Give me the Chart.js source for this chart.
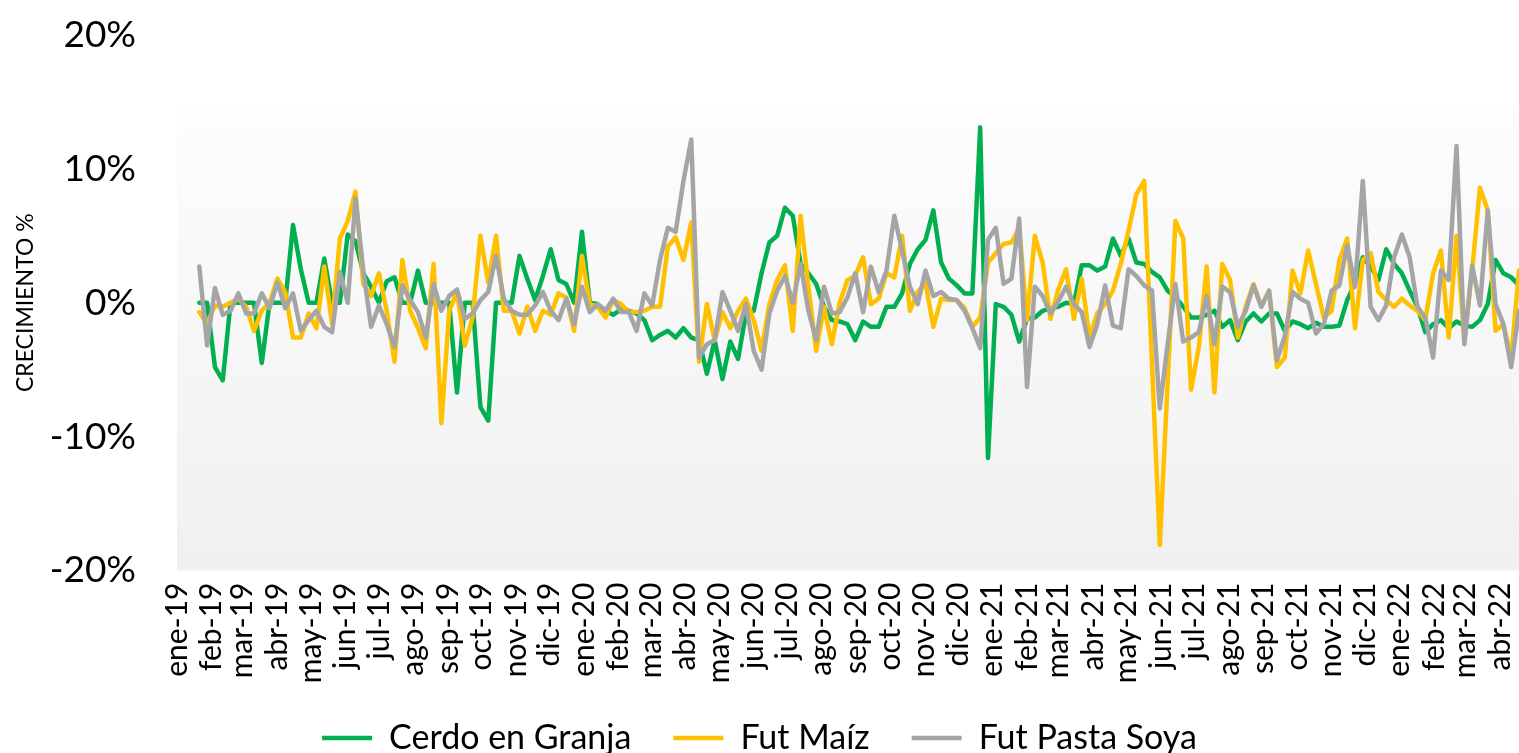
<!DOCTYPE html>
<html>
<head>
<meta charset="utf-8">
<script src="https://cdn.jsdelivr.net/npm/chart.js@4.4.1/dist/chart.umd.min.js"></script>
<style>
  html, body { margin: 0; padding: 0; background: #fff; overflow: hidden; }
  #wrap { width: 1519px; height: 765px; }
</style>
</head>
<body>
<div id="wrap"><canvas id="grafico" width="1519" height="765"></canvas></div>
<script>
// etiquetas de mes del eje X
const meses = ['ene-19','feb-19','mar-19','abr-19','may-19','jun-19','jul-19','ago-19','sep-19','oct-19','nov-19','dic-19',
  'ene-20','feb-20','mar-20','abr-20','may-20','jun-20','jul-20','ago-20','sep-20','oct-20','nov-20','dic-20',
  'ene-21','feb-21','mar-21','abr-21','may-21','jun-21','jul-21','ago-21','sep-21','oct-21','nov-21','dic-21',
  'ene-22','feb-22','mar-22','abr-22'];

// crecimiento semanal en %
const cerdoGranja = [
  0, 0, -4.8, -5.8, 0, 0, 0, 0, -4.5, 0,
  0, 0, 5.8, 2.5, 0, 0, 3.3, 0, 0, 5.1,
  4.6, 2.2, 1.2, 0, 1.6, 1.9, 0, 0, 2.4, 0,
  0, 0, 0, -6.7, 0, 0, -7.8, -8.8, 0, 0,
  0, 3.5, 1.8, 0.2, 2.0, 4.0, 1.7, 1.4, 0, 5.3,
  0, -0.1, -0.6, -0.9, -0.5, -0.6, -0.8, -1.3, -2.8, -2.4,
  -2.1, -2.6, -1.9, -2.6, -2.8, -5.3, -2.8, -5.7, -2.9, -4.2,
  -0.8, -0.6, 2.2, 4.5, 5.0, 7.1, 6.5, 2.9, 2.2, 1.4,
  -0.3, -1.3, -1.4, -1.6, -2.8, -1.4, -1.8, -1.8, -0.3, -0.3,
  0.7, 2.9, 4.0, 4.7, 6.9, 3.0, 1.8, 1.3, 0.7, 0.7,
  13.1, -11.6, -0.1, -0.3, -0.9, -2.9, -1.2, -1.1, -0.6, -0.4,
  -0.3, 0, -0.1, 2.8, 2.8, 2.4, 2.7, 4.8, 3.5, 4.8,
  3.0, 2.9, 2.3, 1.9, 0.9, 0.4, -0.3, -1.1, -1.1, -0.9,
  -0.6, -1.8, -1.3, -2.8, -1.4, -0.8, -1.4, -0.8, -0.8, -2.1,
  -1.4, -1.6, -1.9, -1.5, -1.8, -1.8, -1.7, 0.2, 1.5, 3.4,
  2.7, 1.7, 4.0, 2.9, 2.2, 0.9, -0.3, -2.2, -1.6, -1.3,
  -1.9, -1.4, -1.7, -1.8, -1.3, -0.1, 3.2, 2.2, 1.9, 1.3
];
const futMaiz = [
  -0.7, -1.6, -0.2, -0.3, 0, 0.3, -0.3, -2.1, -0.6, 0,
  1.8, 0.8, -2.6, -2.6, -0.8, -1.9, 2.7, -1.6, 4.8, 6.1,
  8.3, 1.4, 0.5, 2.2, -0.6, -4.4, 3.2, -0.6, -1.9, -3.4,
  2.9, -9.0, -0.6, 0.8, -3.2, -1.1, 5.0, 1.5, 5.0, -0.6,
  -0.6, -2.3, -0.3, -2.1, -0.6, -0.9, 0.7, 0.4, -2.1, 3.5,
  -0.1, -0.3, -1.1, 0.2, -0.1, -0.7, -0.7, -0.6, -0.3, -0.3,
  4.2, 4.9, 3.2, 6.0, -4.4, -0.1, -2.8, -0.7, -1.9, -0.6,
  0.3, -1.3, -3.6, -0.1, 1.7, 2.8, -2.1, 6.5, 1.2, -3.6,
  -0.3, -3.1, 0, 1.7, 2.0, 3.4, -0.1, 0.3, 2.2, 1.9,
  5.0, -0.6, 0.8, 1.5, -1.8, 0.3, 0.2, 0.2, -0.4, -1.8,
  -1.1, 3.0, 3.7, 4.4, 4.5, 5.6, -1.3, 5.0, 3.0, -1.2,
  1.0, 2.5, -1.2, 1.8, -2.6, -0.8, -0.1, 0.9, 2.9, 5.4,
  8.1, 9.1, -4.5, -18.1, -6.0, 6.1, 4.8, -6.5, -3.3, 2.7,
  -6.7, 2.9, 1.7, -2.6, -0.3, 1.4, -0.3, 0.9, -4.8, -4.1,
  2.4, 0.7, 3.9, 1.4, -1.1, -0.6, 3.2, 4.8, -1.9, 3.2,
  3.7, 0.8, 0.2, -0.3, 0.3, -0.2, -0.6, -1.3, 2.2, 3.9,
  -2.6, 5.0, -2.8, 2.4, 8.6, 6.9, -2.1, -1.6, -4.1, 2.4
];
const futPastaSoya = [
  2.7, -3.2, 1.1, -0.9, -0.6, 0.7, -0.8, -0.8, 0.7, -0.4,
  1.5, -0.4, 0.7, -2.1, -1.3, -0.6, -1.8, -2.2, 2.3, 0,
  7.8, 2.4, -1.8, -0.2, -1.6, -3.3, 1.3, 0.2, -0.7, -2.6,
  1.4, -0.6, 0.5, 1.0, -1.2, -0.8, 0.2, 0.8, 3.5, 0.3,
  -0.6, -0.9, -0.9, -0.2, 0.8, -0.6, -1.3, 0.3, -1.6, 1.2,
  -0.7, -0.1, -0.6, 0.3, -0.7, -0.7, -2.1, 0.7, -0.2, 3.2,
  5.6, 5.3, 9.1, 12.2, -4.1, -3.1, -2.8, 0.8, -0.6, -2.1,
  -0.1, -3.6, -5.0, -0.8, 0.9, 2.0, 0, 2.9, -0.6, -2.8,
  1.2, -0.8, -0.7, 0.4, 2.2, -0.7, 2.7, 0.8, 2.4, 6.5,
  3.9, 1.2, -0.1, 2.4, 0.5, 0.8, 0.3, 0.2, -0.6, -1.9,
  -3.4, 4.7, 5.6, 1.4, 1.8, 6.3, -6.3, 1.2, 0.5, -0.8,
  0.1, 1.2, -0.1, -0.7, -3.3, -1.6, 1.3, -1.7, -1.9, 2.5,
  2.0, 1.3, 0.9, -7.9, -3.1, 1.4, -2.9, -2.6, -2.2, 0.5,
  -3.1, 1.2, 0.8, -1.8, -0.6, 1.3, -0.3, 0.9, -4.3, -2.5,
  0.8, 0.3, 0, -2.3, -1.6, 0.9, 1.3, 4.3, 1.2, 9.1,
  -0.3, -1.3, -0.2, 3.4, 5.1, 3.4, -0.3, -1.1, -4.1, 2.4,
  1.7, 11.7, -3.1, 2.8, -0.2, 6.9, -0.1, -1.6, -4.8, -0.6
];

const yTicks = [-20, -10, 0, 10, 20];

// dias contados desde 1-ene-2019
const DIA = 86400000;
const inicio = Date.UTC(2019, 0, 1);
const primeraSemana = Math.round((Date.UTC(2019, 0, 21) - inicio) / DIA);
const semanas = cerdoGranja.map((_, i) => primeraSemana + 7 * i);
const iniciosMes = meses.map((_, k) => Math.round((Date.UTC(2019, k, 1) - inicio) / DIA));

const serie = (vals) => vals.map((v, i) => ({ x: semanas[i], y: v }));

const fondoGradiente = {
  id: 'fondoGradiente',
  beforeDatasetsDraw(chart) {
    const { ctx, chartArea } = chart;
    const top = chartArea.top + 70;
    const g = ctx.createLinearGradient(0, top, 0, chartArea.bottom);
    g.addColorStop(0, '#fdfdfd');
    g.addColorStop(1, '#f0f0f0');
    ctx.save();
    ctx.fillStyle = g;
    ctx.fillRect(chartArea.left, top, chartArea.right - chartArea.left, chartArea.bottom - top);
    ctx.restore();
  }
};

const ctx = document.getElementById('grafico').getContext('2d');
const grafico = new Chart(ctx, {
  type: 'line',
  data: {
    datasets: [
      { label: 'Cerdo en Granja', data: serie(cerdoGranja), borderColor: '#00B050', backgroundColor: '#00B050', borderWidth: 4.5, order: 2 },
      { label: 'Fut Maíz', data: serie(futMaiz), borderColor: '#FFC000', backgroundColor: '#FFC000', borderWidth: 4.5, order: 1 },
      { label: 'Fut Pasta Soya', data: serie(futPastaSoya), borderColor: '#A5A5A5', backgroundColor: '#A5A5A5', borderWidth: 4.5, order: 0 }
    ]
  },
  options: {
    responsive: false,
    animation: false,
    devicePixelRatio: 1,
    layout: { padding: { top: 35, right: 0, left: 0, bottom: 0 } },
    elements: {
      line: { tension: 0, borderCapStyle: 'round', borderJoinStyle: 'round' },
      point: { radius: 0 }
    },
    plugins: {
      tooltip: { enabled: false },
      legend: {
        position: 'bottom',
        labels: {
          usePointStyle: true,
          pointStyle: 'line',
          pointStyleWidth: 50,
          padding: 42,
          color: '#000',
          font: { family: 'Lato', size: 34 },
          sort: (a, b) => a.datasetIndex - b.datasetIndex
        }
      }
    },
    scales: {
      x: {
        type: 'linear',
        min: 0,
        max: semanas[semanas.length - 1],
        grid: { display: false, drawTicks: false },
        border: { display: false },
        afterBuildTicks: (scale) => { scale.ticks = iniciosMes.map(v => ({ value: v })); },
        afterFit: (scale) => {
          scale.height = 765 - 570.5 - (34 + 42 + 10);
          scale.paddingLeft = 0;
          scale.paddingRight = 0;
          // las etiquetas giradas pueden bajar hasta la leyenda
          scale._computeLabelArea = () => null;
        },
        ticks: {
          autoSkip: false,
          minRotation: 90,
          maxRotation: 90,
          padding: 12,
          color: '#000',
          font: { family: 'Lato', size: 30 },
          callback: (v, i) => meses[i]
        }
      },
      y: {
        min: -20,
        max: 20,
        afterBuildTicks: (scale) => { scale.ticks = yTicks.map(v => ({ value: v })); },
        afterFit: (scale) => {
          scale.width = 177;
          scale.paddingTop = 0;
          scale.paddingBottom = 0;
        },
        grid: {
          drawTicks: false,
          color: (c) => c.tick && c.tick.value === 0 ? '#868686' : 'rgba(0,0,0,0)',
          lineWidth: 2
        },
        border: { display: false },
        ticks: {
          padding: 41,
          color: '#000',
          font: { family: 'Lato', size: 37 },
          callback: (v) => v + '%'
        },
        title: {
          display: true,
          text: 'CRECIMIENTO %',
          color: '#000',
          font: { family: 'Lato', size: 23 },
          padding: { top: 12, bottom: 0 }
        }
      }
    }
  },
  plugins: [fondoGradiente]
});
</script>
</body>
</html>
